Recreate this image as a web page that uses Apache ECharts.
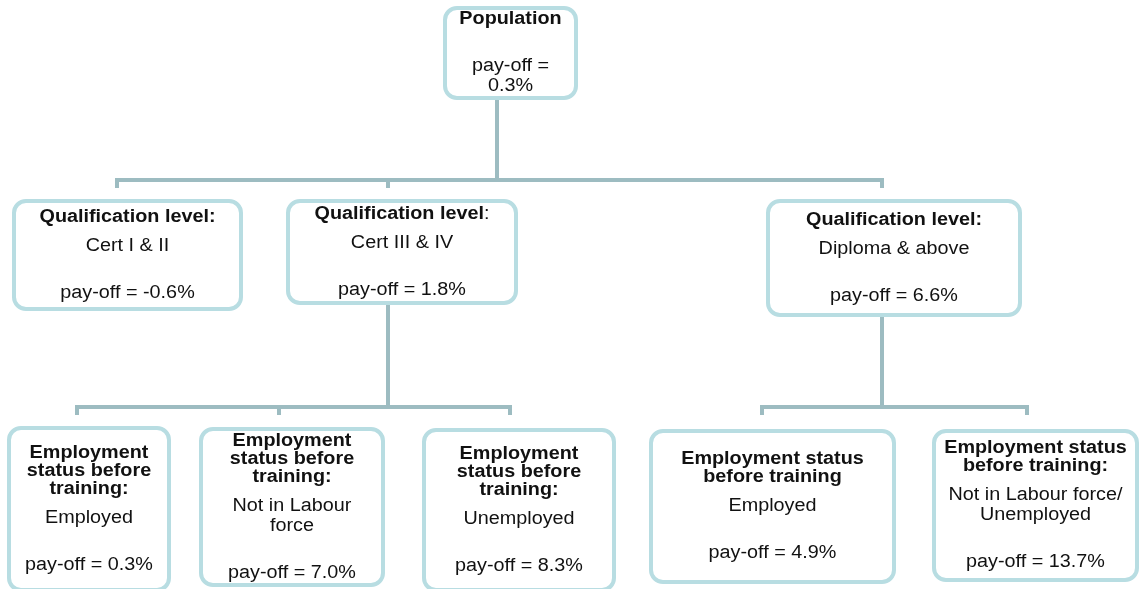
<!DOCTYPE html>
<html>
<head>
<meta charset="utf-8">
<script src="https://cdn.jsdelivr.net/npm/echarts@6/dist/echarts.min.js"></script>
<style>
  html, body { margin: 0; padding: 0; background: #fff; }
  #main { width: 1139px; height: 589px; }
</style>
</head>
<body>
<div id="main"></div>
<script>
// tree content
var titles = [
  ['Population'],
  ['Qualification level:'],
  ['Qualification level:'],
  ['Qualification level:'],
  ['Employment', 'status before', 'training:'],
  ['Employment', 'status before', 'training:'],
  ['Employment', 'status before', 'training:'],
  ['Employment status', 'before training'],
  ['Employment status', 'before training:']
];
var details = [
  [],
  ['Cert I & II'],
  ['Cert III & IV'],
  ['Diploma & above'],
  ['Employed'],
  ['Not in Labour', 'force'],
  ['Unemployed'],
  ['Employed'],
  ['Not in Labour force/', 'Unemployed']
];
var payoffs = [0.3, -0.6, 1.8, 6.6, 0.3, 7.0, 8.3, 4.9, 13.7];
var parents = [-1, 0, 0, 0, 2, 2, 2, 3, 3];

// layout (pixels): box x, y, w, h
var boxes = [
  [445, 8, 131, 90],
  [14, 201, 227, 108],
  [288, 201, 228, 102],
  [768, 201, 252, 114],
  [9, 428, 160, 162],
  [201, 429, 182, 156],
  [424, 430, 190, 160],
  [651, 431, 243, 151],
  [934, 431, 203, 149]
];
var anchorX = [497, 117, 388, 882, 77, 279, 510, 762, 1027];
var busY = { 0: 180, 2: 407, 3: 407 };
var narrowBoxes = [0];   // pay-off wraps in these
var plainColon = [2];    // colon not bold in these titles

var BORDER = '#b8dde2';
var LINK = '#9dbcc1';
var FONT = '"Liberation Sans", Arial, sans-serif';

// connector segments from the tree structure
var segments = [];
Object.keys(busY).forEach(function (k) {
  var p = +k;
  var kids = [];
  parents.forEach(function (par, i) { if (par === p) kids.push(i); });
  var xs = kids.map(function (i) { return anchorX[i]; });
  var by = busY[p];
  segments.push([anchorX[p], boxes[p][1] + boxes[p][3] - 2, anchorX[p], by]);
  segments.push([Math.min.apply(null, xs), by, Math.max.apply(null, xs), by]);
  xs.forEach(function (x) { segments.push([x, by - 2, x, by + 8]); });
});

function nodeLines(i) {
  var out = [], y = 0;
  titles[i].forEach(function (t, k) {
    if (k > 0) y += 18;
    var txt = '{b|' + t + '}';
    if (plainColon.indexOf(i) >= 0 && t.slice(-1) === ':') {
      txt = '{b|' + t.slice(0, -1) + '}{n|:}';
    }
    out.push({ text: txt, y: y });
  });
  details[i].forEach(function (t, k) {
    y += (k === 0 ? 29 : 20);
    out.push({ text: '{n|' + t + '}', y: y });
  });
  var payLines = narrowBoxes.indexOf(i) >= 0
    ? ['pay-off =', payoffs[i].toFixed(1) + '%']
    : ['pay-off = ' + payoffs[i].toFixed(1) + '%'];
  payLines.forEach(function (t, k) {
    y += (k === 0 ? 47 : 20);
    out.push({ text: '{n|' + t + '}', y: y });
  });
  return { lines: out, total: y };
}

var myChart = echarts.init(document.getElementById('main'));

var option = {
  animation: false,
  grid: { left: 0, right: 0, top: 0, bottom: 0 },
  xAxis: { type: 'value', min: 0, max: 1139, show: false },
  yAxis: { type: 'value', min: 0, max: 589, inverse: true, show: false },
  series: [
    {
      type: 'custom',
      name: 'links',
      silent: true,
      data: segments,
      renderItem: function (params, api) {
        var a = api.coord([api.value(0), api.value(1)]);
        var b = api.coord([api.value(2), api.value(3)]);
        return {
          type: 'line',
          shape: { x1: a[0], y1: a[1], x2: b[0], y2: b[1] },
          style: { stroke: LINK, lineWidth: 4 }
        };
      }
    },
    {
      type: 'custom',
      name: 'nodes',
      silent: true,
      z: 3,
      data: payoffs.map(function (v, i) { return [i, v]; }),
      renderItem: function (params, api) {
        var i = api.value(0);
        var b = boxes[i];
        var p0 = api.coord([b[0], b[1]]);
        var p1 = api.coord([b[0] + b[2], b[1] + b[3]]);
        var cx = (p0[0] + p1[0]) / 2;
        var cy = (p0[1] + p1[1]) / 2;
        var info = nodeLines(i);
        var children = [{
          type: 'rect',
          shape: { x: p0[0], y: p0[1], width: p1[0] - p0[0], height: p1[1] - p0[1], r: 12 },
          style: { fill: 'none', stroke: BORDER, lineWidth: 4 }
        }];
        info.lines.forEach(function (l) {
          children.push({
            type: 'text',
            x: cx,
            y: cy - info.total / 2 + l.y,
            scaleX: 1.1,
            style: {
              text: l.text,
              align: 'center',
              verticalAlign: 'middle',
              rich: {
                b: { fill: '#111', fontFamily: FONT, fontSize: 18, fontWeight: 'bold' },
                n: { fill: '#111', fontFamily: FONT, fontSize: 18, fontWeight: 'normal' }
              }
            }
          });
        });
        return { type: 'group', children: children };
      }
    }
  ]
};

myChart.setOption(option);
</script>
</body>
</html>
